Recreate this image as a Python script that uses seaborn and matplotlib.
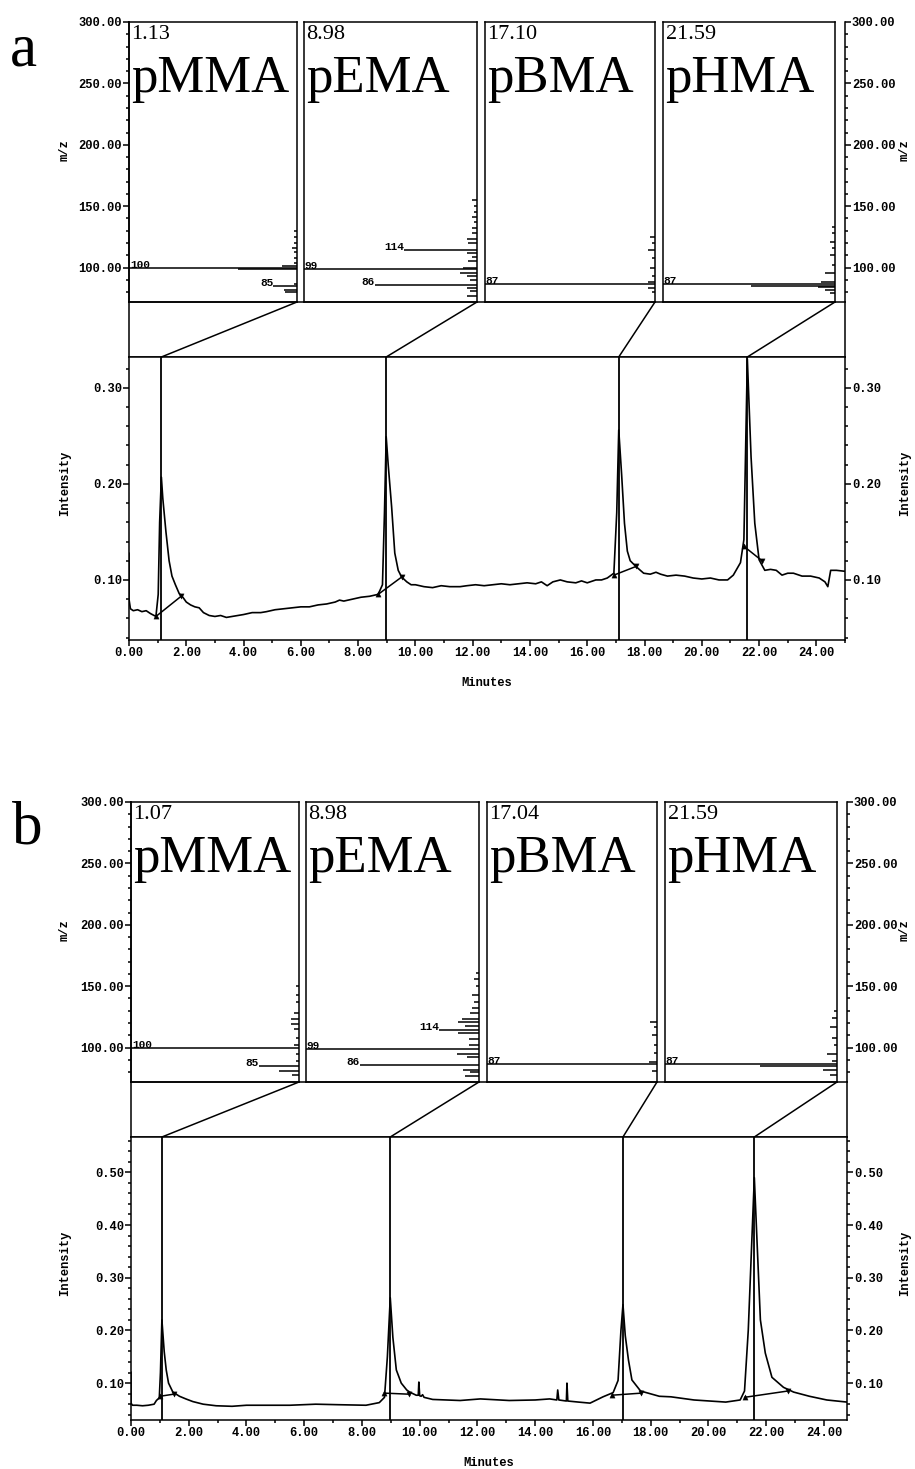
import matplotlib
matplotlib.use("Agg")
import matplotlib.pyplot as plt
from matplotlib.patches import ConnectionPatch
from matplotlib.ticker import MultipleLocator, FormatStrFormatter
import pandas as pd
import seaborn as sns

# ---------------- data ----------------
compounds = ["pMMA", "pEMA", "pBMA", "pHMA"]
rt_a = [1.13, 8.98, 17.10, 21.59]
rt_b = [1.07, 8.98, 17.04, 21.59]
rt_labels_a = ["1.13", "8.98", "17.10", "21.59"]
rt_labels_b = ["1.07", "8.98", "17.04", "21.59"]
labelled_mz = [[100, 85], [99, 114, 86], [87], [87]]

# mass spectra, panel a (m/z, relative abundance %)
a_pmma_mz = [80, 82, 85, 87, 99, 100, 101, 104, 108, 113, 116, 120, 125, 130]
a_pmma_int = [7, 8, 14, 2, 35, 100, 9, 2, 2, 2, 3, 2, 1.5, 1.5]
a_pema_mz = [77, 81, 83, 86, 90, 93, 96, 99, 100, 105, 109, 112, 114, 120, 123,
             128, 132, 137, 141, 145, 150, 155]
a_pema_int = [6, 4, 6, 59, 4, 6, 10, 100, 8, 5, 3, 6, 42, 5, 6, 3, 3, 2, 3, 2, 2, 3]
a_pbma_mz = [80, 83, 87, 88, 93, 100, 108, 114, 120, 125]
a_pbma_int = [2, 4, 100, 4, 2, 3, 2, 4, 2, 3]
a_phma_mz = [79, 82, 84, 85, 87, 88, 96, 102, 110, 116, 121, 128, 133]
a_phma_int = [3, 6, 10, 49, 100, 8, 6, 2, 3, 2, 3, 2, 2]

# mass spectra, panel b
b_pmma_mz = [78, 81, 85, 89, 95, 100, 102, 108, 115, 119, 123, 128, 137, 143, 150]
b_pmma_int = [4, 12, 24, 2, 2, 100, 3, 2, 3, 5, 5, 3, 2, 2, 1.5]
b_pema_mz = [77, 80, 82, 86, 92, 95, 99, 102, 107, 112, 114, 118, 121, 123,
             128, 132, 137, 143, 150, 156, 161]
b_pema_int = [8, 5, 9, 69, 7, 13, 100, 6, 6, 12, 23, 8, 12, 10, 5, 4, 3, 4, 2, 3, 2]
b_pbma_mz = [81, 87, 88, 96, 102, 110, 117, 121]
b_pbma_int = [3, 100, 5, 2, 2, 3, 2, 4]
b_phma_mz = [78, 82, 85, 87, 89, 95, 102, 108, 117, 124, 130]
b_phma_int = [4, 8, 45, 100, 3, 6, 2, 3, 4, 3, 2]

# total ion chromatograms (minutes, intensity)
a_time = [0.00, 0.00, 0.05, 0.15, 0.30, 0.45, 0.60, 0.75, 0.94, 1.02, 1.07, 1.13,
          1.18, 1.29, 1.40, 1.50, 1.62, 1.75, 1.88, 2.00, 2.15, 2.30, 2.45, 2.60,
          2.80, 3.00, 3.20, 3.40, 3.60, 3.80, 4.00, 4.30, 4.60, 4.80, 5.10, 5.40,
          5.70, 6.00, 6.30, 6.60, 6.90, 7.20, 7.35, 7.50, 7.80, 8.10, 8.40, 8.70,
          8.85, 8.92, 8.98, 9.05, 9.17, 9.28, 9.40, 9.52, 9.70, 9.85, 10.00, 10.30,
          10.60, 10.90, 11.20, 11.56, 11.80, 12.10, 12.40, 12.70, 13.00, 13.30,
          13.60, 13.90, 14.20, 14.40, 14.60, 14.80, 15.06, 15.30, 15.60, 15.80,
          16.00, 16.30, 16.50, 16.70, 16.93, 17.03, 17.10, 17.20, 17.30, 17.40,
          17.50, 17.70, 17.97, 18.20, 18.40, 18.56, 18.80, 19.10, 19.40, 19.70,
          20.00, 20.30, 20.60, 20.90, 21.10, 21.35, 21.47, 21.59, 21.72, 21.85,
          22.00, 22.20, 22.40, 22.60, 22.80, 23.00, 23.20, 23.50, 23.80, 24.10,
          24.30, 24.40, 24.50, 24.70, 25.00]
a_inten = [0.128, 0.080, 0.070, 0.068, 0.069, 0.067, 0.068, 0.065, 0.062, 0.085,
           0.160, 0.207, 0.185, 0.150, 0.120, 0.104, 0.095, 0.086, 0.082, 0.077,
           0.074, 0.072, 0.071, 0.066, 0.063, 0.062, 0.063, 0.061, 0.062, 0.063,
           0.064, 0.066, 0.066, 0.067, 0.069, 0.070, 0.071, 0.072, 0.072, 0.074,
           0.075, 0.077, 0.079, 0.078, 0.080, 0.082, 0.083, 0.085, 0.095, 0.170,
           0.249, 0.220, 0.176, 0.128, 0.110, 0.103, 0.098, 0.095, 0.095, 0.093,
           0.092, 0.094, 0.093, 0.093, 0.094, 0.095, 0.094, 0.095, 0.096, 0.095,
           0.096, 0.097, 0.096, 0.098, 0.094, 0.098, 0.100, 0.098, 0.097, 0.099,
           0.097, 0.100, 0.100, 0.102, 0.107, 0.170, 0.256, 0.210, 0.159, 0.130,
           0.120, 0.114, 0.107, 0.106, 0.108, 0.106, 0.104, 0.105, 0.104, 0.102,
           0.101, 0.102, 0.100, 0.100, 0.105, 0.118, 0.142, 0.330, 0.228, 0.159,
           0.121, 0.110, 0.111, 0.110, 0.105, 0.107, 0.107, 0.104, 0.104, 0.102,
           0.098, 0.093, 0.110, 0.110, 0.109]
b_time = [0.00, 0.00, 0.05, 0.20, 0.40, 0.60, 0.80, 0.88, 0.98, 1.02, 1.07, 1.15,
          1.22, 1.30, 1.45, 1.68, 1.90, 2.14, 2.50, 2.95, 3.50, 4.00, 4.70, 5.50,
          6.40, 7.20, 8.14, 8.60, 8.78, 8.88, 8.98, 9.07, 9.19, 9.36, 9.55, 9.65,
          9.88, 9.95, 9.97, 10.00, 10.05, 10.10, 10.15, 10.45, 11.40, 12.10, 13.10,
          14.00, 14.50, 14.75, 14.78, 14.82, 15.08, 15.10, 15.13, 15.50, 15.90,
          16.35, 16.70, 16.87, 16.97, 17.04, 17.12, 17.23, 17.35, 17.65, 18.30,
          18.70, 19.50, 20.60, 21.10, 21.25, 21.38, 21.59, 21.70, 21.80, 21.97,
          22.20, 22.60, 22.95, 23.50, 24.10, 24.80]
b_inten = [0.121, 0.062, 0.058, 0.058, 0.057, 0.058, 0.060, 0.067, 0.072, 0.120,
           0.220, 0.160, 0.125, 0.100, 0.083, 0.075, 0.070, 0.065, 0.060, 0.057,
           0.056, 0.058, 0.058, 0.058, 0.060, 0.059, 0.058, 0.063, 0.073, 0.150,
           0.262, 0.187, 0.125, 0.100, 0.087, 0.083, 0.077, 0.077, 0.102, 0.076,
           0.075, 0.078, 0.073, 0.069, 0.067, 0.070, 0.067, 0.068, 0.070, 0.068,
           0.087, 0.068, 0.066, 0.100, 0.066, 0.064, 0.062, 0.074, 0.082, 0.105,
           0.200, 0.249, 0.190, 0.144, 0.106, 0.085, 0.075, 0.074, 0.068, 0.064,
           0.068, 0.085, 0.200, 0.490, 0.348, 0.220, 0.157, 0.111, 0.092, 0.083,
           0.075, 0.068, 0.064]

# integration baselines (start time, start int, end time, end int)
a_base = [(0.94, 0.062, 1.82, 0.083), (8.70, 0.085, 9.52, 0.103),
          (16.93, 0.105, 17.70, 0.114), (21.47, 0.135, 22.10, 0.120)]
b_base = [(1.00, 0.075, 1.48, 0.079), (8.78, 0.081, 9.62, 0.079),
          (16.65, 0.077, 17.68, 0.081), (21.25, 0.073, 22.75, 0.085)]

# ---------------- style ----------------
sns.set_style("ticks")
plt.rcParams["font.family"] = ["Liberation Mono", "DejaVu Sans Mono"]
plt.rcParams["font.weight"] = "bold"
plt.rcParams["font.size"] = 8.7
plt.rcParams["text.color"] = "black"
plt.rcParams["axes.labelcolor"] = "black"
plt.rcParams["axes.linewidth"] = 1.1
plt.rcParams["axes.edgecolor"] = "black"
plt.rcParams["xtick.color"] = "black"
plt.rcParams["ytick.color"] = "black"

W, H = 915, 1469
fig = plt.figure(figsize=(W / 100, H / 100), dpi=100)
fig.patch.set_facecolor("white")

SERIF = "Liberation Serif"
sub_x = [(0, 168), (175, 348), (356, 526), (534, 706)]


def box(x0, y0, x1, y1):
    return [x0 / W, 1 - y1 / H, (x1 - x0) / W, (y1 - y0) / H]


def draw_panel(letter, top, dx, rts, rt_labels, spectra, t, inten, base, ylim, xmax, letter_base):
    left, right = 129 + dx, 845 + dx
    ms_bot, ch_top, ch_bot = top + 280, top + 335, top + 618

    # m/z frame with shared scale
    ax_ms = fig.add_axes(box(left, top, right, ms_bot))
    ax_ms.set_ylim(72, 300)
    ax_ms.set_xticks([])
    ax_ms.yaxis.set_major_locator(MultipleLocator(50))
    ax_ms.yaxis.set_minor_locator(MultipleLocator(10))
    ax_ms.yaxis.set_major_formatter(FormatStrFormatter("%.2f"))
    ax_ms.tick_params(axis="y", which="both", left=True, right=True,
                      labelleft=True, labelright=True, direction="out", width=1.1)
    ax_ms.tick_params(axis="y", which="major", length=4, pad=1)
    ax_ms.tick_params(axis="y", which="minor", length=2)
    ax_ms.spines["top"].set_visible(False)
    ax_ms.spines["bottom"].set_visible(False)

    # connector band
    ax_cn = fig.add_axes(box(left, ms_bot, right, ch_top))
    ax_cn.set_xticks([])
    ax_cn.set_yticks([])

    # chromatogram
    ax_ch = fig.add_axes(box(left, ch_top, right, ch_bot))
    df = pd.DataFrame({"t": t, "i": inten})
    sns.lineplot(data=df, x="t", y="i", ax=ax_ch, color="black", lw=1.2,
                 sort=False, estimator=None)
    for t0, i0, t1, i1 in base:
        ax_ch.plot([t0, t1], [i0, i1], color="black", lw=1.1)
    starts = pd.DataFrame({"t": [b[0] for b in base], "i": [b[1] for b in base]})
    ends = pd.DataFrame({"t": [b[2] for b in base], "i": [b[3] for b in base]})
    sns.scatterplot(data=starts, x="t", y="i", ax=ax_ch, marker="^", s=14,
                    color="black", edgecolor="black")
    sns.scatterplot(data=ends, x="t", y="i", ax=ax_ch, marker="v", s=14,
                    color="black", edgecolor="black")
    for rt in rts:
        ax_ch.axvline(rt, color="black", lw=1.3)
    ax_ch.set_xlim(0, xmax)
    ax_ch.set_ylim(*ylim)
    ax_ch.set_xlabel("")
    ax_ch.set_ylabel("")
    ax_ch.xaxis.set_major_locator(MultipleLocator(2))
    ax_ch.xaxis.set_minor_locator(MultipleLocator(1))
    ax_ch.xaxis.set_major_formatter(FormatStrFormatter("%.2f"))
    ax_ch.yaxis.set_major_locator(MultipleLocator(0.1))
    ax_ch.yaxis.set_minor_locator(MultipleLocator(0.02))
    ax_ch.yaxis.set_major_formatter(FormatStrFormatter("%.2f"))
    ax_ch.tick_params(axis="y", which="both", left=True, right=True,
                      labelleft=True, labelright=True, direction="out", width=1.1)
    ax_ch.tick_params(axis="x", which="both", bottom=True, direction="out", width=1.1)
    ax_ch.tick_params(which="major", length=4, pad=1)
    ax_ch.tick_params(which="minor", length=2)

    # spectra sub-panels
    for k, (x0, x1) in enumerate(sub_x):
        mz, ab = spectra[k]
        ax_s = fig.add_axes(box(left + x0, top, left + x1, ms_bot))
        ax_s.set_facecolor("none")
        ax_s.set_xlim(100, 0)
        ax_s.set_ylim(72, 300)
        ax_s.set_xticks([])
        ax_s.set_yticks([])
        ax_s.hlines(mz, 0, ab, color="black", lw=1.1)
        for m in labelled_mz[k]:
            a = ab[mz.index(m)]
            if a >= 95:
                ax_s.text(99.5, m, str(m), ha="left", va="baseline", fontsize=8)
            else:
                ax_s.text(a, m, str(m), ha="right", va="baseline", fontsize=8)
        ax_s.text(0.015, 0.99, rt_labels[k], transform=ax_s.transAxes,
                  ha="left", va="top", family=SERIF, weight="normal", fontsize=16,
                  bbox=dict(fc="white", ec="none", pad=0.6))
        ax_s.text(0.012, 0.75, compounds[k], transform=ax_s.transAxes,
                  ha="left", va="baseline", family=SERIF, weight="normal",
                  fontsize=38)
        con = ConnectionPatch(xyA=(rts[k], ylim[1]), coordsA=ax_ch.transData,
                              xyB=(1, 0), coordsB=ax_s.transAxes,
                              color="black", lw=1.1)
        fig.add_artist(con)

    # axis titles
    mid_ms = (top + ms_bot) / 2 - 12
    mid_ch = (ch_top + ch_bot) / 2 - 15
    for xp in (65, 905):
        fig.text(xp / W, 1 - mid_ms / H, "m/z", rotation=90, ha="center", va="center")
        fig.text(xp / W, 1 - mid_ch / H, "Intensity", rotation=90, ha="center", va="center")
    fig.text((left + right) / 2 / W, 1 - (top + 661) / H, "Minutes",
             ha="center", va="center")
    fig.text((10 + dx) / W, 1 - letter_base / H, letter, ha="left", va="baseline",
             family=SERIF, weight="normal", fontsize=44)


spectra_a = [(a_pmma_mz, a_pmma_int), (a_pema_mz, a_pema_int),
             (a_pbma_mz, a_pbma_int), (a_phma_mz, a_phma_int)]
spectra_b = [(b_pmma_mz, b_pmma_int), (b_pema_mz, b_pema_int),
             (b_pbma_mz, b_pbma_int), (b_phma_mz, b_phma_int)]

draw_panel("a", 22, 0, rt_a, rt_labels_a, spectra_a, a_time, a_inten, a_base,
           (0.0375, 0.332), 25.0, 65)
draw_panel("b", 802, 2, rt_b, rt_labels_b, spectra_b, b_time, b_inten, b_base,
           (0.03, 0.567), 24.8, 843)

fig.savefig("out.png", dpi=100, facecolor="white")
